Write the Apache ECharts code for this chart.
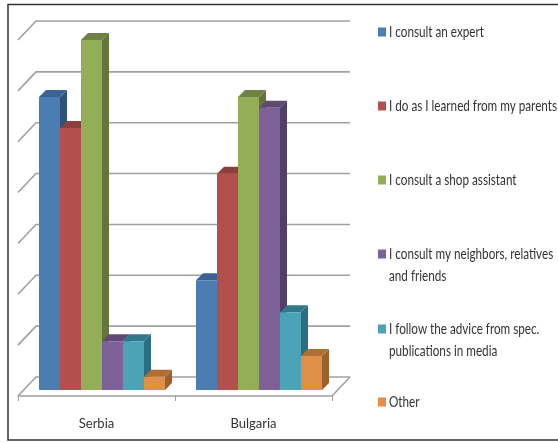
<!DOCTYPE html>
<html><head><meta charset="utf-8">
<style>html,body{margin:0;padding:0;background:#fff}#c{width:558px;height:443px}</style>
<script src="https://cdn.jsdelivr.net/npm/echarts@6/dist/echarts.min.js"></script>
</head><body><div id="c"></div>
<script>
var categories = ['Serbia', 'Bulgaria'];
var names = ['I consult an expert', 'I do as I learned from my parents', 'I consult a shop assistant',
  'I consult my neighbors, relatives and friends', 'I follow the advice from spec. publications in media', 'Other'];
var expert = [57.6, 21.6];
var parents = [51.5, 42.5];
var shop = [68.8, 57.6];
var neighbors = [9.6, 55.5];
var media = [9.6, 15.3];
var other = [2.6, 6.7];
var gridValues = [0, 10, 20, 30, 40, 50, 60, 70];
var allValues = [expert, parents, shop, neighbors, media, other];
var colors = ['#4C7DB2', '#B3504D', '#94AD57', '#7F6199', '#4BA3B8', '#DF8F47'];
var tops = ['#3A6491', '#8C3F3D', '#6F8243', '#5F4A75', '#32788A', '#AE6F33'];
var sides = ['#2F527B', '#733331', '#63753D', '#523F66', '#2A6E80', '#9A612C'];
var legendY = [27, 101, 175, 249, 324, 397];
var legendLines = [
  [['I consult an expert', 32]],
  [['I do as I learned from my parents', 106]],
  [['I consult a shop assistant', 180]],
  [['I consult my neighbors, relatives', 254], ['and friends', 276]],
  [['I follow the advice from spec.', 329], ['publications in media', 351]],
  [['Other', 402]]
];
var FONT = 'Lato,sans-serif';

var chart = echarts.init(document.getElementById('c'));
var wallDX = 18, wallDY = -19, barShift = 6, depth = 7;
function wallItem(params, api) {
  var v = api.value(1), cs = params.coordSys;
  var y = api.coord([0, v])[1];
  var x0 = cs.x, x1 = cs.x + cs.width;
  var pts = [[x0, y], [x0 + wallDX, y + wallDY], [x1 + wallDX, y + wallDY]];
  var children = [{type: 'polyline', shape: {points: pts}, style: {fill: null, stroke: '#A0A0A0', lineWidth: 1.6}}];
  if (v === 0) children.push({type: 'line', shape: {x1: x1, y1: y, x2: x1 + wallDX, y2: y + wallDY}, style: {stroke: '#A0A0A0', lineWidth: 1.6}});
  return {type: 'group', children: children};
}
function barRender(si) {
  return function (params, api) {
    var w = Math.round(api.size([1, 0])[0] * 21 / 157);
    var c = api.coord([api.value(0), api.value(1)]);
    var b = api.coord([api.value(0), 0]);
    var x = Math.floor(c[0] + barShift + (si - 3) * w), yTop = c[1] - barShift, yBot = b[1] - barShift;
    return {type: 'group', children: [
      {type: 'polygon', shape: {points: [[x + w, yTop], [x + w + depth, yTop - depth], [x + w + depth, yBot - depth], [x + w, yBot]]}, style: {fill: sides[si]}},
      {type: 'polygon', shape: {points: [[x, yTop], [x + depth, yTop - depth], [x + w + depth, yTop - depth], [x + w, yTop]]}, style: {fill: tops[si]}},
      {type: 'rect', shape: {x: x, y: yTop, width: w, height: yBot - yTop}, style: {fill: colors[si]}}
    ]};
  };
}
var series = [{type: 'custom', silent: true, z: 1, renderItem: wallItem, encode: {x: 0, y: 1},
  data: gridValues.map(function (v) { return [0, v]; })}];
names.forEach(function (n, si) {
  series.push({type: 'custom', name: n, z: 2 + si, renderItem: barRender(si), itemStyle: {color: colors[si]}, encode: {x: 0, y: 1},
    data: allValues[si].map(function (v, i) { return [i, v]; })});
});
var legends = names.map(function (n, i) {
  return {data: [{name: n, icon: 'rect'}], left: 378, top: legendY[i], orient: 'vertical', itemWidth: 8, itemHeight: 9, itemGap: 0,
    selectedMode: false, padding: 0, formatter: function () { return ' '; }, textStyle: {fontSize: 10}};
});
var graphics = [{type: 'polyline', shape: {points: [[558, 4.5], [8, 4.5], [8, 440], [558, 440]]}, style: {fill: null, stroke: '#333', lineWidth: 1.5}}];
legendLines.forEach(function (item) {
  item.forEach(function (s) {
    graphics.push({type: 'text', x: 389, y: s[1], scaleX: 0.78, style: {text: s[0], font: '15px ' + FONT, fill: '#333', verticalAlign: 'middle'}});
  });
});
chart.setOption({
  animation: false,
  backgroundColor: '#fff',
  grid: {left: 18, width: 314, top: 40, height: 356},
  legend: legends,
  graphic: graphics,
  xAxis: {type: 'category', data: categories, boundaryGap: true,
    axisLine: {lineStyle: {color: '#A0A0A0', width: 1.5}},
    axisTick: {show: true, length: 5, lineStyle: {color: '#A0A0A0'}},
    axisLabel: {color: '#333', fontFamily: FONT, fontSize: 13, margin: 21}},
  yAxis: {type: 'value', min: 0, max: 70, interval: 10, show: false, splitLine: {show: false}},
  series: series
});
</script></body></html>
